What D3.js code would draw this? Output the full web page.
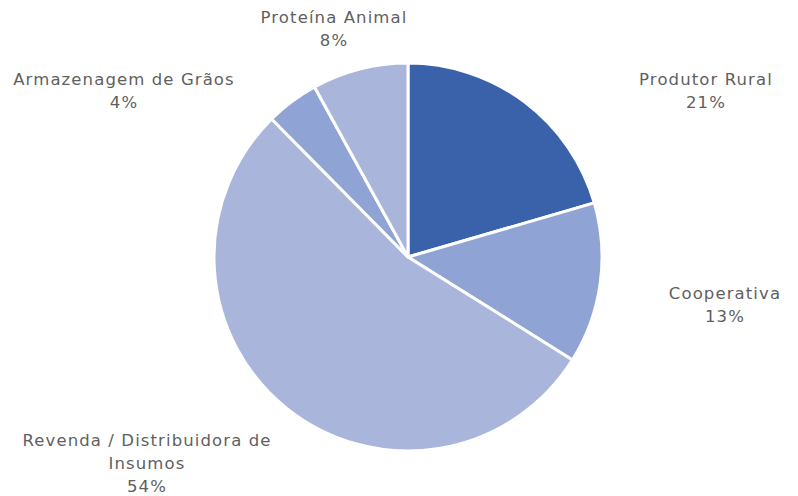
<!DOCTYPE html>
<meta charset="utf-8">
<style>
    body {
        margin: 0;
        background-color: #fff;
    }

    svg {
        display: block;
    }

    .labels text {
        font-family: "DejaVu Sans", sans-serif;
        font-size: 16.5px;
        letter-spacing: 1.1px;
        fill: #5f5f5f;
    }

    .slices path {
        stroke: #fff;
        stroke-width: 3px;
    }
</style>
<svg width="798" height="496"></svg>
<script src="https://d3js.org/d3.v7.min.js"></script>
<script>
    // chart data (shares in %, labels show them rounded)
    var categories = ["Produtor Rural", "Cooperativa", "Revenda / Distribuidora de Insumos", "Armazenagem de Grãos", "Proteína Animal"];
    var shares = [20.5, 13.4, 53.7, 4.4, 8.0];

    // label text lines (as wrapped in the original)
    var labelLines = [
        ["Produtor Rural"],
        ["Cooperativa"],
        ["Revenda / Distribuidora de", "Insumos"],
        ["Armazenagem de Grãos"],
        ["Proteína Animal"]
    ];

    // layout
    var colors = ["#3a62aa", "#8fa3d4", "#a9b5da", "#8fa3d4", "#a9b5da"];
    var labelAnchors = [[706, 85], [725, 299], [147, 446], [124, 85], [334, 23]];

    var svg = d3.select("svg"),
        cx = 408,
        cy = 257,
        radius = 194;

    var data = categories.map(function(c, i) {
        return { name: c, value: shares[i], lines: labelLines[i], i: i };
    });

    var pie = d3.pie()
        .sort(null)
        .value(function(d) { return d.value; });

    var arc = d3.arc()
        .innerRadius(0)
        .outerRadius(radius);

    svg.append("g")
        .attr("class", "slices")
        .attr("transform", "translate(" + cx + "," + cy + ")")
        .selectAll("path")
        .data(pie(data))
        .enter().append("path")
        .attr("d", arc)
        .attr("fill", function(d) { return colors[d.data.i]; });

    var labels = svg.append("g")
        .attr("class", "labels")
        .selectAll("text")
        .data(data)
        .enter().append("text")
        .attr("text-anchor", "middle")
        .attr("y", function(d) { return labelAnchors[d.i][1]; });

    labels.each(function(d) {
        var t = d3.select(this);
        var lines = d.lines.concat([Math.round(d.value) + "%"]);
        lines.forEach(function(line, k) {
            t.append("tspan")
                .attr("x", labelAnchors[d.i][0])
                .attr("dy", k === 0 ? 0 : 23)
                .text(line);
        });
    });
</script>
